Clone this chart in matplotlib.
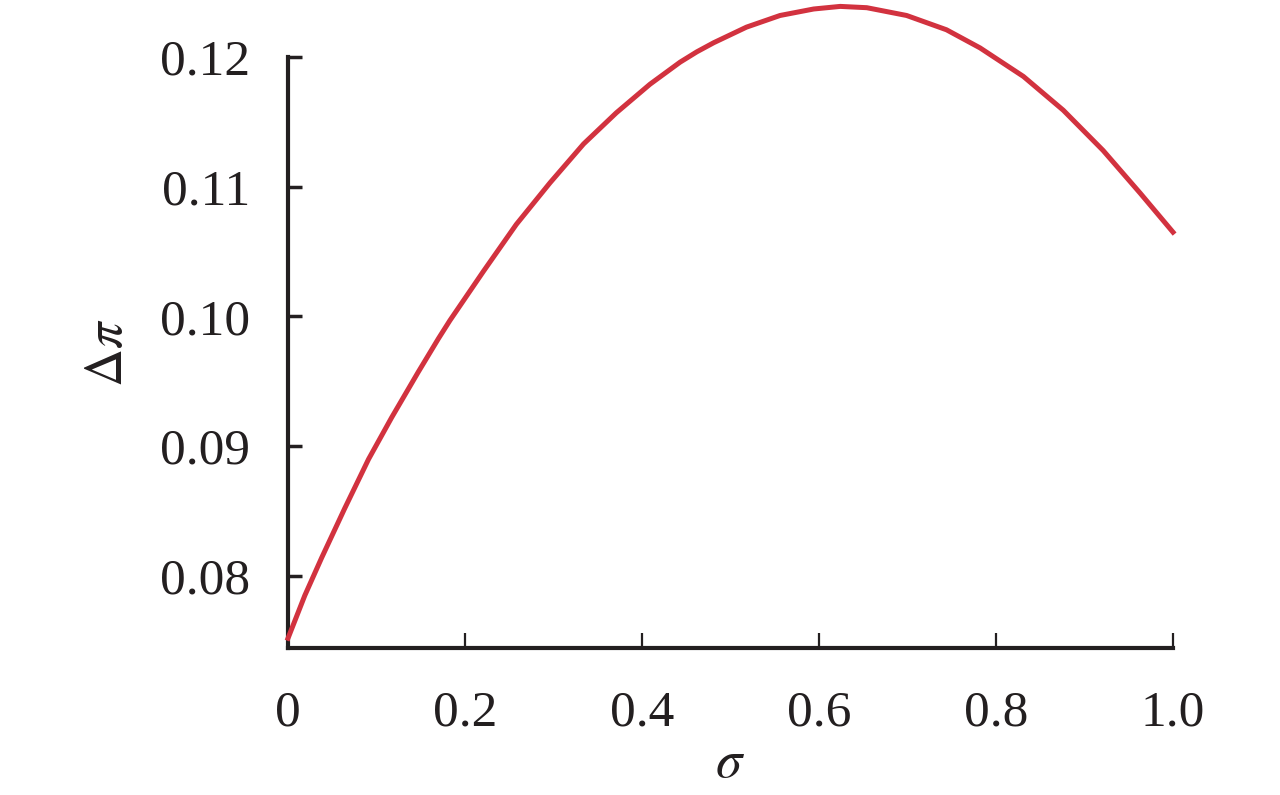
import numpy as np
import matplotlib.pyplot as plt

# valores
sigma = [0.0, 0.019, 0.038, 0.064, 0.091, 0.117, 0.147, 0.170, 0.183, 0.208,
         0.221, 0.258, 0.296, 0.334, 0.371, 0.409, 0.443, 0.462, 0.481, 0.518,
         0.556, 0.594, 0.624, 0.654, 0.699, 0.744, 0.782, 0.831, 0.876, 0.921,
         0.963, 1.0]
delta_pi = [0.0752, 0.0785, 0.0814, 0.0852, 0.0890, 0.0922, 0.0957, 0.0983, 0.0997,
            0.1022, 0.1035, 0.1071, 0.1103, 0.1133, 0.1157, 0.1179, 0.1196, 0.1204,
            0.1211, 0.1223, 0.1232, 0.1237, 0.1239, 0.1238, 0.1232, 0.1221, 0.1207,
            0.1185, 0.1159, 0.1128, 0.1095, 0.1065]

x_ticks = [0, 0.2, 0.4, 0.6, 0.8, 1.0]
x_labels = ["0", "0.2", "0.4", "0.6", "0.8", "1.0"]
y_ticks = [0.08, 0.09, 0.10, 0.11, 0.12]
y_labels = ["0.08", "0.09", "0.10", "0.11", "0.12"]

plt.rcParams['font.family'] = 'serif'
plt.rcParams['font.serif'] = ['Liberation Serif', 'DejaVu Serif']
plt.rcParams['mathtext.fontset'] = 'stix'

fig = plt.figure(figsize=(12.8, 7.95), dpi=100)
ax = fig.add_axes([0.225, 0.1849, 0.6914, 0.7434])

ax.plot(sigma, delta_pi, color='#d2323f', lw=3.6, clip_on=False, zorder=3,
        solid_joinstyle='round')

ax.set_xlim(0, 1.0)
ax.set_ylim(0.07445, 0.12)
ax.set_xticks(x_ticks)
ax.set_xticklabels(x_labels)
ax.set_yticks(y_ticks)
ax.set_yticklabels(y_labels)

for s in ['top', 'right']:
    ax.spines[s].set_visible(False)
for s in ['left', 'bottom']:
    ax.spines[s].set_linewidth(3.0)
    ax.spines[s].set_color('#231f20')

ax.tick_params(axis='x', direction='in', length=11, width=1.6, pad=30,
               labelsize=37, colors='#231f20')
ax.tick_params(axis='y', direction='in', length=10, width=2.5, pad=27,
               labelsize=37, colors='#231f20')

ax.set_xlabel(r'$\sigma$', fontsize=38, color='#231f20', labelpad=3)
ax.set_ylabel(r'$\Delta\pi$', fontsize=38, color='#231f20', labelpad=20)

plt.savefig('out.png', dpi=100)
